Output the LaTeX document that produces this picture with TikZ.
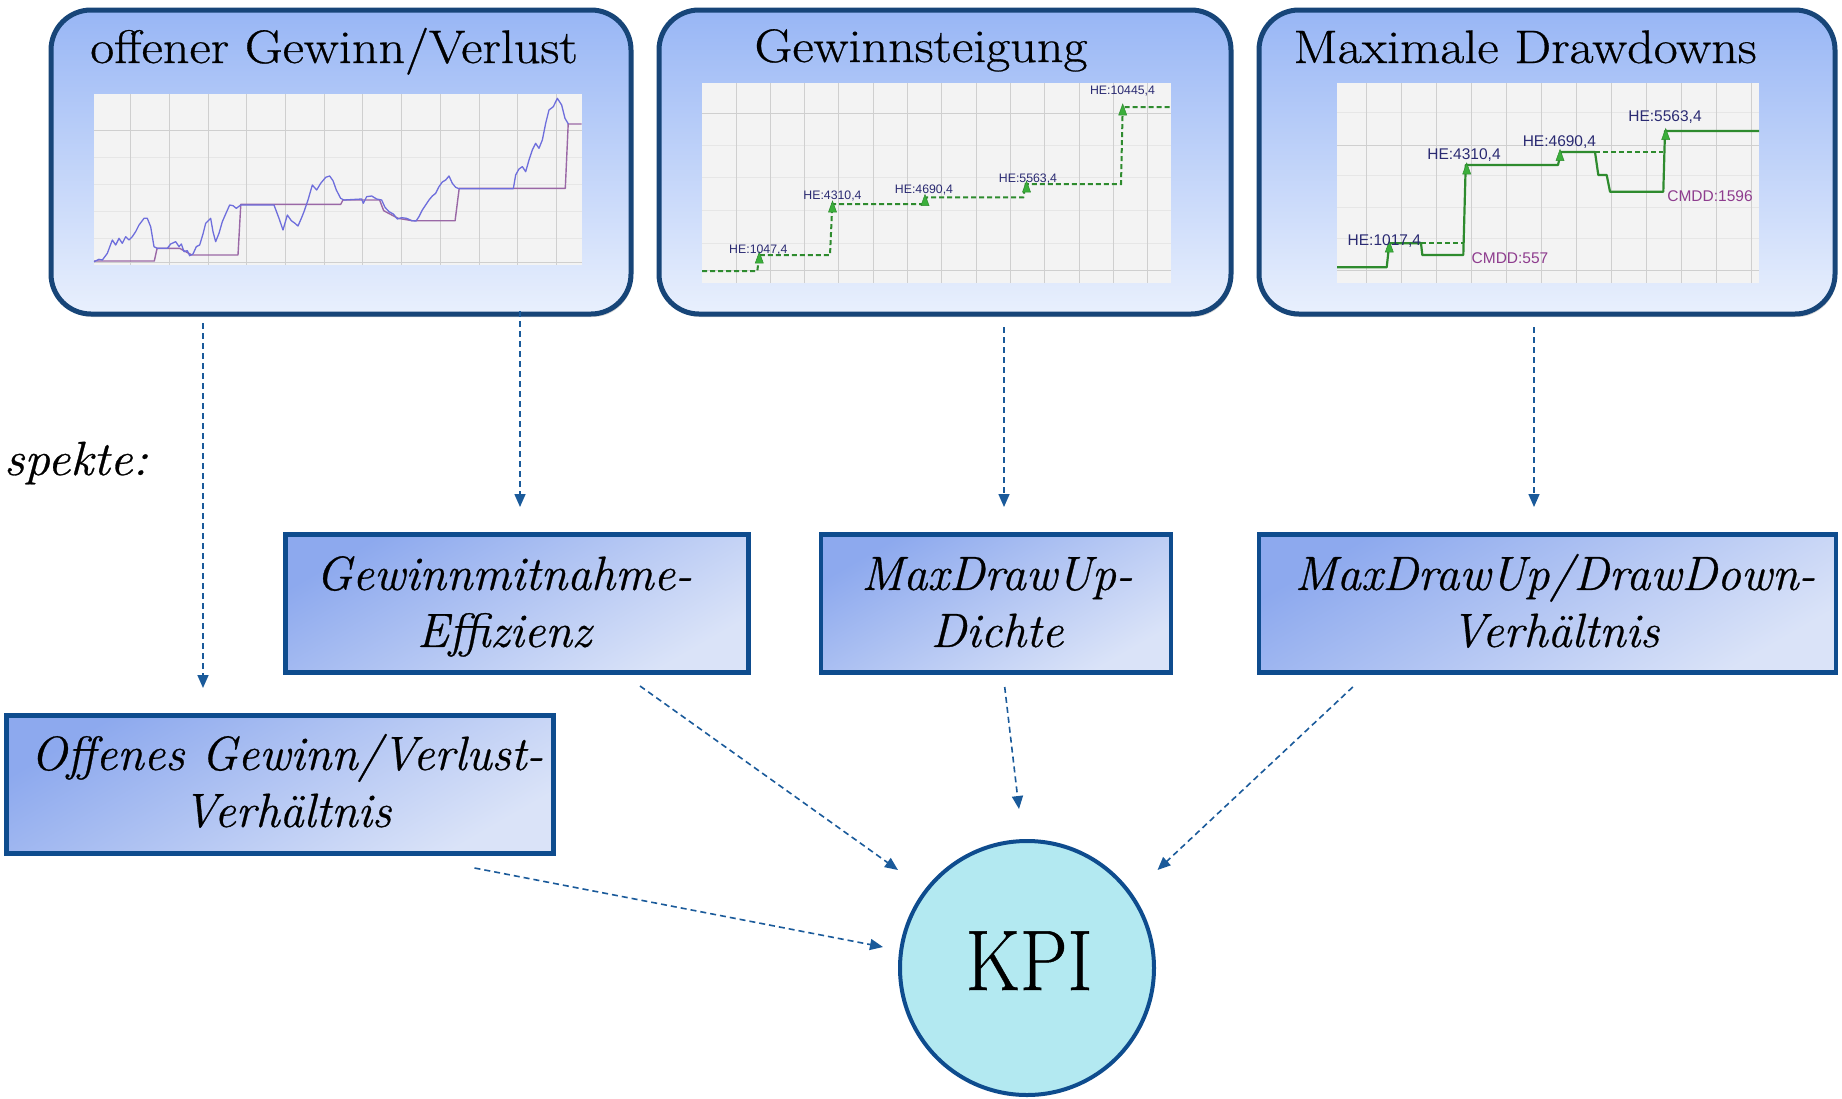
\documentclass[tikz,border=0pt]{standalone}
\usepackage{fontspec}
\usepackage{graphicx}
\newfontfamily\chartfont{Liberation Sans}
\newfontfamily\heavyfont{Latin Modern Roman}[FakeBold=0.6]
\usetikzlibrary{arrows.meta,shadows}
\definecolor{topA}{HTML}{98B6F5}
\definecolor{topM}{HTML}{C3D5FA}
\definecolor{topB}{HTML}{E9F0FD}
\definecolor{topBorder}{HTML}{174578}
\definecolor{midA}{HTML}{8DA9EE}
\definecolor{midB}{HTML}{DAE3F8}
\definecolor{midBorder}{HTML}{0E4C8E}
\definecolor{kpiFill}{HTML}{B3E9F1}
\definecolor{arrCol}{HTML}{1A5A9A}
\definecolor{chartBg}{HTML}{F3F3F3}
\definecolor{gridMain}{HTML}{CFCFCF}
\definecolor{gridFaint}{HTML}{E6E6E6}
\definecolor{purpLine}{HTML}{9A68A6}
\definecolor{bluLine}{HTML}{6E6EDC}
\definecolor{grnLine}{HTML}{2E8B2E}
\definecolor{grnTri}{HTML}{3BAF3B}
\definecolor{heText}{HTML}{2A2A72}
\definecolor{cmddText}{HTML}{8E3C8E}
\begin{document}
\begin{tikzpicture}[x=1pt,y=-1pt,
  topbox/.style={draw=topBorder, line width=5pt, rounded corners=40pt,
    top color=topA, middle color=topM, bottom color=topB, inner sep=0pt,
    drop shadow={shadow xshift=1.5pt, shadow yshift=-3pt, opacity=0.35}},
  midbox/.style={draw=midBorder, line width=4.5pt, top color=midA, bottom color=midB,
    shading angle=30, inner sep=0pt},
  kpibox/.style={circle, draw=midBorder, line width=4pt, fill=kpiFill, inner sep=0pt,
    minimum size=254pt},
  titletxt/.style={font=\heavyfont\fontsize{47}{56}\selectfont, anchor=base, inner sep=0pt},
  midtxt/.style={font=\heavyfont\fontsize{48}{57}\selectfont\itshape, align=center, inner sep=0pt},
  conn/.style={draw=arrCol, line width=1.6pt, dash pattern=on 6pt off 4pt,
    -{Triangle[width=11pt,length=13pt]}},
  gmain/.style={draw=gridMain, line width=1pt},
  gfaint/.style={draw=gridFaint, line width=0.8pt},
  lbl/.style={font=\chartfont\fontsize{12.3}{14}\selectfont, text=heText, inner sep=0pt},
  lblbig/.style={font=\chartfont\fontsize{15.5}{18}\selectfont, text=heText, inner sep=0pt},
  cmddlbl/.style={font=\chartfont\fontsize{15.5}{18}\selectfont, text=cmddText, inner sep=0pt},
  pics/uptri/.style={code={\fill[grnTri, draw=grnLine, line width=0.5pt] (-4,5) -- (4,5) -- (0,-6) -- cycle;}}
]
\useasboundingbox (0,0) rectangle (1842,1098);

% ---------- top boxes ----------
\node[topbox, minimum width=580pt, minimum height=304pt] (top1) at (341,162) {};
\node[topbox, minimum width=572pt, minimum height=304pt] (top2) at (945,162) {};
\node[topbox, minimum width=576pt, minimum height=304pt] (top3) at (1547,162) {};

\node[titletxt] (h1) at (334,63) {\scalebox{1.11}[1]{offener Gewinn/Verlust}};
\node[titletxt] (h2) at (921,62) {\scalebox{1.11}[1]{Gewinnsteigung}};
\node[titletxt] (h3) at (1525,63) {\scalebox{1.11}[1]{Maximale Drawdowns}};

% ---------- chart 1 ----------
\fill[chartBg] (94,94) rectangle (582,265);
\foreach \yy in {157,184,211,238} \draw[gfaint] (94,\yy) -- (582,\yy);
\foreach \yy in {130,262} \draw[gmain] (94,\yy) -- (582,\yy);
\foreach \k in {0,...,11} \draw[gmain] ({130.7+38.7*\k},94) -- ({130.7+38.7*\k},265);
\draw[purpLine, line width=1.4pt, line join=round]
  (94,261) -- (154.3,261) -- (157.1,248.3) -- (179.6,248.3) -- (191.8,255) -- (238,255)
  -- (240.8,204.3) -- (340.8,204.3) -- (342.9,200) -- (379.6,200) -- (383.7,210.7)
  -- (398,218.3) -- (412.2,220.7) -- (455.1,220.7) -- (459.2,188.3) -- (565.3,188.3)
  -- (568.2,124) -- (581.6,124);
\begin{scope}[shift={(94,90)}, scale=0.33333]
\draw[bluLine, line width=1.3pt, line join=round]
  (0,515) -- (15,508) -- (25,510) -- (40,490) -- (55,450) -- (65,465) -- (75,445) -- (85,460)
  -- (95,440) -- (105,450) -- (115,440) -- (125,425) -- (135,405) -- (150,385) -- (160,385)
  -- (170,410) -- (180,470) -- (190,475) -- (220,475) -- (230,462) -- (245,455) -- (255,470)
  -- (262,462) -- (270,485) -- (280,482) -- (287,497) -- (297,492) -- (307,470) -- (317,465)
  -- (327,432) -- (335,400) -- (343,392) -- (350,385) -- (357,425) -- (365,455) -- (375,430)
  -- (385,395) -- (395,372) -- (407,345) -- (417,347) -- (427,355) -- (440,345) -- (540,345)
  -- (555,385) -- (567,420) -- (580,375) -- (592,392) -- (603,400) -- (612,408) -- (622,385)
  -- (630,365) -- (642,330) -- (655,285) -- (668,300) -- (680,280) -- (695,262) -- (707,258)
  -- (717,272) -- (727,300) -- (740,325) -- (750,330);
\end{scope}
\begin{scope}[shift={(340,90)}, scale=0.33333]
\draw[bluLine, line width=1.3pt, line join=round]
  (12,330) -- (65,327) -- (70,340) -- (80,320) -- (95,318) -- (110,327) -- (125,330)
  -- (135,352) -- (147,365) -- (160,372) -- (172,387) -- (185,383) -- (200,385) -- (215,392)
  -- (228,393) -- (237,380) -- (247,360) -- (257,345) -- (267,330) -- (277,318) -- (287,310)
  -- (297,290) -- (307,276) -- (317,270) -- (327,258) -- (337,280) -- (347,292) -- (357,296)
  -- (520,296) -- (527,255) -- (537,237) -- (547,230) -- (557,245) -- (567,210) -- (577,180)
  -- (587,160) -- (597,175) -- (607,150) -- (617,100) -- (627,60) -- (640,50) -- (652,25)
  -- (665,45) -- (675,85) -- (685,102);
\end{scope}

% ---------- chart 2 ----------
\fill[chartBg] (702,83) rectangle (1171,283);
\foreach \yy in {145,177,210,243} \draw[gfaint] (702,\yy) -- (1171,\yy);
\foreach \yy in {113,270} \draw[gmain] (702,\yy) -- (1171,\yy);
\foreach \k in {0,...,12} \draw[gmain] ({736+34.3*\k},83) -- ({736+34.3*\k},283);
\draw[grnLine, line width=2pt, dash pattern=on 5pt off 3pt]
  (702,271) -- (757.3,271) -- (759.3,255) -- (830,255) -- (832.3,204) -- (923.3,204)
  -- (926.7,197.3) -- (1023.3,197.3) -- (1025.7,184) -- (1121,184) -- (1122.7,107) -- (1171,107);
\pic at (759.3,258) {uptri};
\pic at (832.5,207) {uptri};
\pic at (925,200.5) {uptri};
\pic at (1026.5,187) {uptri};
\pic at (1122.7,110) {uptri};
\node[lbl] (g2a) at (758.3,250) {HE:1047,4};
\node[lbl] (g2b) at (832.5,196) {HE:4310,4};
\node[lbl] (g2c) at (924,190) {HE:4690,4};
\node[lbl] (g2d) at (1028,178.5) {HE:5563,4};
\node[lbl] (g2e) at (1122.5,90.5) {HE:10445,4};

% ---------- chart 3 ----------
\fill[chartBg] (1337,83) rectangle (1759,283);
\foreach \yy in {112,175,207,238} \draw[gfaint] (1337,\yy) -- (1759,\yy);
\foreach \yy in {145,270} \draw[gmain] (1337,\yy) -- (1759,\yy);
\foreach \k in {0,...,11} \draw[gmain] ({1366.7+35*\k},83) -- ({1366.7+35*\k},283);
\draw[grnLine, line width=2.2pt, line join=round]
  (1337,267.3) -- (1386.7,267.3) -- (1389.3,243.3) -- (1421,243.3) -- (1422.3,255)
  -- (1463.3,255) -- (1465.7,165) -- (1558,165) -- (1561,152) -- (1595,152) -- (1598.3,175)
  -- (1606.7,175) -- (1610,191.7) -- (1663.3,191.7) -- (1665,131) -- (1759,131);
\draw[grnLine, line width=2.2pt, dash pattern=on 5pt off 3pt] (1389.3,243.3) -- (1463.3,243.3);
\draw[grnLine, line width=2.2pt, dash pattern=on 5pt off 3pt] (1595,152) -- (1663.3,152);
\pic at (1389.3,247) {uptri};
\pic at (1466.7,169) {uptri};
\pic at (1560,155.5) {uptri};
\pic at (1665.7,134.5) {uptri};
\node[lblbig] (g3a) at (1384.3,241.5) {HE:1017,4};
\node[lblbig] (g3b) at (1464,155) {HE:4310,4};
\node[lblbig] (g3c) at (1559.4,142) {HE:4690,4};
\node[lblbig] (g3d) at (1665,117.5) {HE:5563,4};
\node[cmddlbl] (g3e) at (1510,258) {CMDD:557};
\node[cmddlbl] (g3f) at (1710,196.5) {CMDD:1596};

% ---------- side text ----------
\node[font=\heavyfont\fontsize{48}{56}\selectfont\itshape, anchor=base east, inner sep=0pt] (asp) at (148,475) {\scalebox{1.06}[1]{spekte:}};

% ---------- middle boxes ----------
\node[midbox, minimum width=463pt, minimum height=138pt] (m1) at (517,603.5) {};
\node[midbox, minimum width=350pt, minimum height=138pt] (m2) at (996,603.5) {};
\node[midbox, minimum width=577pt, minimum height=138pt] (m3) at (1547.5,603.5) {};
\node[midbox, minimum width=547pt, minimum height=138pt] (m0) at (280,784.5) {};

\node[midtxt] (m1t) at (504,607) {\strut Gewinnmitnahme-\\\strut Effizienz};
\node[midtxt] (m2t) at (997,607) {\strut MaxDrawUp-\\\strut Dichte};
\node[midtxt] (m3t) at (1555,607) {\strut MaxDrawUp/DrawDown-\\\strut Verhältnis};
\node[midtxt] (m0t) at (287,787) {\strut Offenes Gewinn/Verlust-\\\strut Verhältnis};

% ---------- KPI ----------
\node[kpibox] (kpi) at (1027,968) {};
\node[anchor=base, inner sep=0pt] (kpit) at (1029,990) {\scalebox{0.88}[1]{\heavyfont\fontsize{86}{90}\selectfont KPI}};

% ---------- connectors ----------
\coordinate (a1s) at (203,323);   \coordinate (a1e) at (203,688);
\coordinate (a2s) at (520,311);   \coordinate (a2e) at (520,507);
\coordinate (a3s) at (1004,327);  \coordinate (a3e) at (1004,507);
\coordinate (a4s) at (1534,327);  \coordinate (a4e) at (1534,507);
\coordinate (b1s) at (640,686);   \coordinate (b1e) at (898,870);
\coordinate (b2s) at (1004.7,687);\coordinate (b2e) at (1019,809);
\coordinate (b3s) at (1352.8,687);\coordinate (b3e) at (1157.5,870);
\coordinate (b4s) at (474.5,868); \coordinate (b4e) at (883,947);

\draw[conn] (a1s) -- (a1e);
\draw[conn] (a2s) -- (a2e);
\draw[conn] (a3s) -- (a3e);
\draw[conn] (a4s) -- (a4e);
\draw[conn] (b1s) -- (b1e);
\draw[conn] (b2s) -- (b2e);
\draw[conn] (b3s) -- (b3e);
\draw[conn] (b4s) -- (b4e);
\end{tikzpicture}
\end{document}
